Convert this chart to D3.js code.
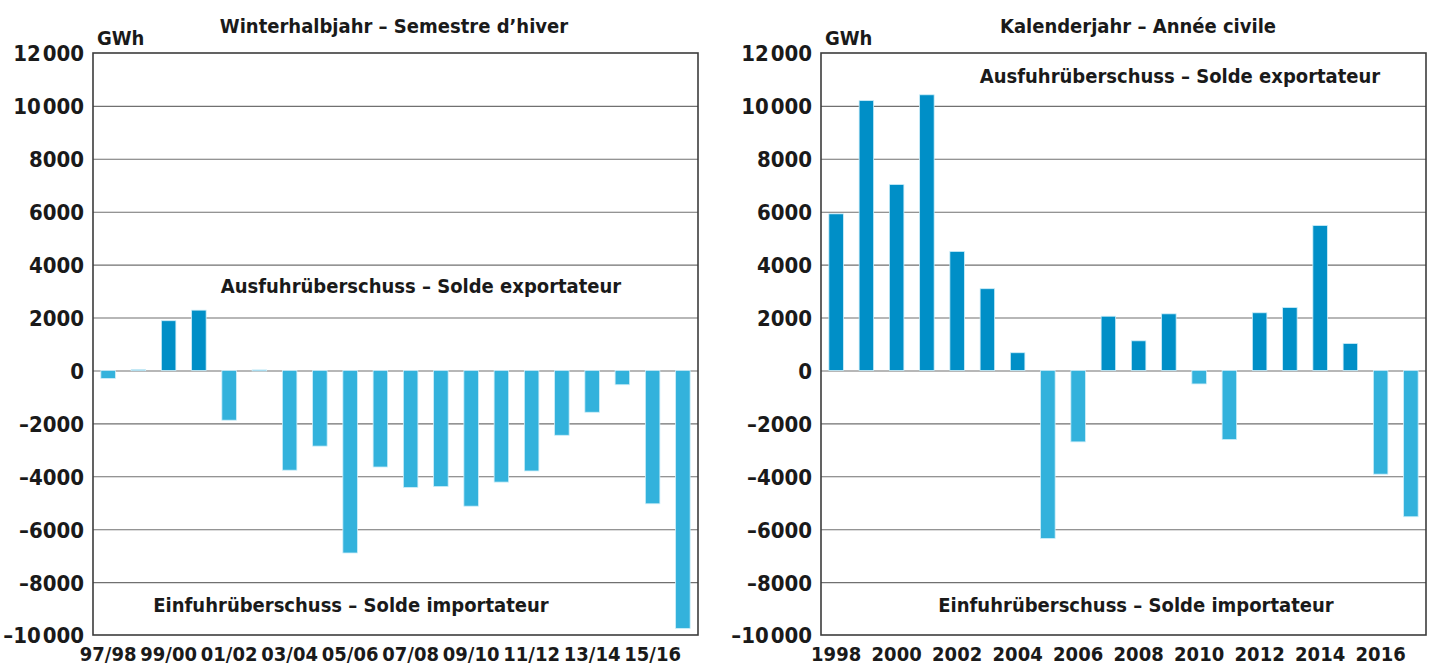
<!DOCTYPE html>
<html>
<head>
<meta charset="utf-8">
<script src="https://cdn.jsdelivr.net/npm/d3@7"></script>
<style>
  html, body { margin: 0; padding: 0; background: #fff; }
  svg { display: block; }
  text {
    font-family: "DejaVu Sans Condensed", "DejaVu Sans", sans-serif;
    font-stretch: condensed;
    font-weight: bold;
    fill: #1a1a1a;
  }
</style>
</head>
<body>
<svg id="chart" width="1433" height="666"></svg>
<script>
// Winter half-year balance (GWh)
const winterLabels = ["97/98","98/99","99/00","00/01","01/02","02/03","03/04","04/05","05/06","06/07",
                      "07/08","08/09","09/10","10/11","11/12","12/13","13/14","14/15","15/16","16/17"];
const winterValues = [-300, 30, 1880, 2280, -1880, 20, -3770, -2860, -6900, -3650,
                      -4420, -4390, -5130, -4220, -3800, -2450, -1580, -540, -5040, -9750];

// Calendar-year balance (GWh)
const yearLabels = ["1998","1999","2000","2001","2002","2003","2004","2005","2006","2007",
                    "2008","2009","2010","2011","2012","2013","2014","2015","2016","2017"];
const yearValues = [5920, 10200, 7030, 10420, 4500, 3090, 670, -6350, -2700, 2050,
                    1120, 2140, -510, -2610, 2180, 2380, 5480, 1020, -3920, -5530];

const yTicks = [-10000, -8000, -6000, -4000, -2000, 0, 2000, 4000, 6000, 8000, 10000, 12000];

const titleWinter = "Winterhalbjahr – Semestre d’hiver";
const titleYear = "Kalenderjahr – Année civile";
const unitLabel = "GWh";
const exportLabel = "Ausfuhrüberschuss – Solde exportateur";
const importLabel = "Einfuhrüberschuss – Solde importateur";

const colPos = "#008fc7";
const colNeg = "#33b2dc";

function fmt(v) {
  const s = String(Math.abs(v));
  const body = s.length > 4 ? s.slice(0, -3) + "\u200A" + s.slice(-3) : s;
  return (v < 0 ? "\u2013" : "") + body;
}

const svg = d3.select("#chart");

function panel(cfg) {
  const { x0, x1, y0, y1, labels, values, title, titleX, expX, expY, impX, impY } = cfg;
  const g = svg.append("g");

  const x = d3.scaleBand().domain(labels).range([x0, x1]).paddingInner(0.52).paddingOuter(0.26);
  const y = d3.scaleLinear().domain([-10000, 12000]).range([y1, y0]);

  // gridlines
  g.append("g")
    .attr("transform", `translate(${x0},0)`)
    .call(d3.axisLeft(y).tickValues(yTicks.filter(t => t > -10000 && t < 12000)).tickSize(-(x1 - x0)).tickFormat(""))
    .call(a => a.select(".domain").remove())
    .call(a => a.selectAll("line").attr("stroke", "#707070").attr("stroke-width", 1.1));

  // y tick labels
  g.append("g")
    .attr("transform", `translate(${x0},0)`)
    .call(d3.axisLeft(y).tickValues(yTicks).tickSize(0).tickPadding(9).tickFormat(fmt))
    .call(a => a.select(".domain").remove())
    .call(a => a.selectAll("text").attr("font-size", 22).attr("dy", "0.36em"));

  // bars
  g.append("g").selectAll("rect")
    .data(labels.map((l, i) => ({ l, v: values[i] })))
    .join("rect")
    .attr("x", d => x(d.l))
    .attr("width", x.bandwidth())
    .attr("y", d => y(Math.max(0, d.v)))
    .attr("height", d => Math.max(1, Math.abs(y(d.v) - y(0))))
    .attr("fill", d => d.v >= 0 ? colPos : colNeg)
    .attr("stroke", "#cdeef9")
    .attr("stroke-width", 0.8);

  // frame
  g.append("rect")
    .attr("x", x0).attr("y", y0)
    .attr("width", x1 - x0).attr("height", y1 - y0)
    .attr("fill", "none").attr("stroke", "#3c3c3c").attr("stroke-width", 1.6);

  // x tick labels (every second category)
  g.append("g")
    .attr("transform", `translate(0,${y1})`)
    .call(d3.axisBottom(x).tickValues(labels.filter((_, i) => i % 2 === 0)).tickSize(0).tickPadding(12))
    .call(a => a.select(".domain").remove())
    .call(a => a.selectAll("text").attr("font-size", 20).attr("dy", "0.71em"));

  // titles and annotations
  g.append("text").attr("x", titleX).attr("y", 33).attr("text-anchor", "middle").attr("font-size", 20).text(title);
  g.append("text").attr("x", x0 + 4).attr("y", 45).attr("font-size", 20).text(unitLabel);
  g.append("text").attr("x", expX).attr("y", expY).attr("text-anchor", "middle").attr("font-size", 20).text(exportLabel);
  g.append("text").attr("x", impX).attr("y", impY).attr("text-anchor", "middle").attr("font-size", 20).text(importLabel);
}

panel({ x0: 93, x1: 698, y0: 53, y1: 635, labels: winterLabels, values: winterValues,
        title: titleWinter, titleX: 394, expX: 421, expY: 293, impX: 351, impY: 612 });
panel({ x0: 821, x1: 1426, y0: 53, y1: 635, labels: yearLabels, values: yearValues,
        title: titleYear, titleX: 1138, expX: 1180, expY: 83, impX: 1136, impY: 612 });
</script>
</body>
</html>
